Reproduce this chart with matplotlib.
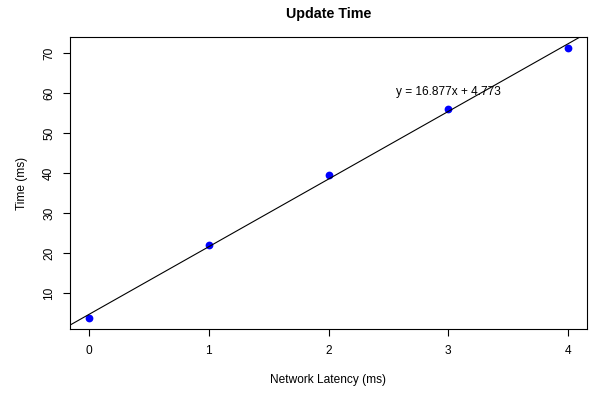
# Update Time: network latency vs time, with fitted line (R base plot look)
import numpy as np
import matplotlib
matplotlib.use("Agg")
import matplotlib.pyplot as plt

plt.rcParams['font.family'] = ['Liberation Sans', 'DejaVu Sans']

# data
latency = [0, 1, 2, 3, 4]
time_ms = [3.8, 22.1, 39.5, 55.9, 71.3]
slope = 16.877
intercept = 4.773
eq_label = "y = 16.877x + 4.773"
y_ticks = [10, 20, 30, 40, 50, 60, 70]
x_ticks = [0, 1, 2, 3, 4]

fig = plt.figure(figsize=(5.94, 3.93), dpi=100)
ax = fig.add_axes([70 / 594, 1 - 329 / 393, (587 - 70) / 594, (329 - 37) / 393])

# R-style 4% axis expansion
xr = max(latency) - min(latency)
yr = max(time_ms) - min(time_ms)
ax.set_xlim(min(latency) - 0.04 * xr, max(latency) + 0.04 * xr)
ax.set_ylim(min(time_ms) - 0.04 * yr, max(time_ms) + 0.04 * yr)

ax.plot(latency, time_ms, 'o', color='blue', markersize=5.6, markeredgewidth=0)

# abline
xs = np.array(ax.get_xlim())
ax.plot(xs, slope * xs + intercept, color='black', linewidth=0.8)

ax.text(3, 60.3, eq_label, ha='center', va='center', fontsize=8.6)

ax.set_xticks(x_ticks)
ax.set_yticks(y_ticks)
ax.set_yticklabels([str(t) for t in y_ticks], rotation=90, va='center')
ax.tick_params(axis='both', direction='out', length=5.2, width=0.8, labelsize=8.6)
ax.tick_params(axis='x', pad=6.5)
ax.tick_params(axis='y', pad=5.5)
for s in ax.spines.values():
    s.set_linewidth(0.8)

ax.set_xlabel("Network Latency (ms)", fontsize=8.6, labelpad=12)
ax.set_ylabel("Time (ms)", fontsize=8.6, labelpad=11)
ax.set_title("Update Time", fontsize=10.3, fontweight='bold', pad=14)

fig.savefig("out.png", dpi=100)
